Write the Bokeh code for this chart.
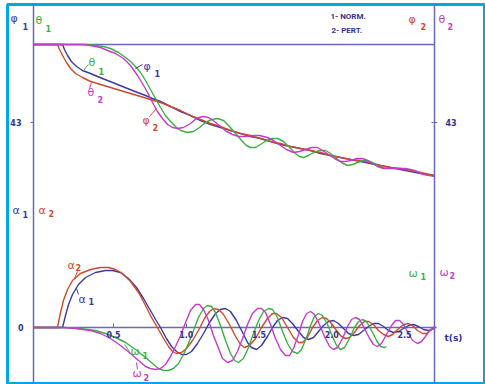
from bokeh.plotting import figure
from bokeh.models import Range1d, LinearAxis, FixedTicker, NumeralTickFormatter
from bokeh.core.properties import value
from bokeh.embed import file_html
from bokeh.resources import INLINE

# ---------------- data ----------------
# time axis ticks [s]
T_TICKS = [0.5, 1.0, 1.5, 2.0, 2.5]
UP_TICKS = [43]
LOW_TICKS = [0]
TOP_LEVEL = 82          # upper flat starting value (upper scale)
T_LEFT = -0.05          # left axis position [s]
T_RIGHT = 2.706         # right axis position [s]

# upper group: theta_1 (blue), theta_2 (red), phi_1 (green), phi_2 (magenta)
THETA1_T = [-0.050, 0.150, 0.163, 0.184, 0.211, 0.246, 0.287, 0.342, 0.390, 0.459,
            0.528, 0.596, 0.665, 0.720, 0.768, 0.823, 0.892, 0.961, 1.029, 1.098,
            1.167, 1.235, 1.304, 1.373, 1.442, 1.510, 1.579, 1.648, 1.716, 1.785,
            1.854, 1.923, 1.991, 2.060, 2.129, 2.198, 2.266, 2.335, 2.404, 2.473,
            2.541, 2.610, 2.706]
THETA1_V = [82, 82, 79.5, 76.5, 73.5, 71, 69, 67.5, 66, 64,
            62, 60, 58, 56.5, 55, 53.5, 51, 48.5, 46.5, 44,
            42, 40.5, 39, 37.5, 36, 35, 33.5, 32, 31, 30,
            29, 27.5, 26.5, 25.5, 24.5, 23.5, 22.5, 21.5, 20.5, 19.5,
            18.5, 17.5, 16.5]

THETA2_T = [-0.050, 0.115, 0.129, 0.150, 0.177, 0.205, 0.239, 0.287, 0.342, 0.411,
            0.479, 0.548, 0.617, 0.686, 0.754, 0.823, 0.892, 0.961, 1.029, 1.098,
            1.167, 1.235, 1.304, 1.373, 1.442, 1.510, 1.579, 1.648, 1.716, 1.785,
            1.854, 1.923, 1.991, 2.060, 2.129, 2.198, 2.266, 2.335, 2.404, 2.473,
            2.541, 2.610, 2.706]
THETA2_V = [82, 82, 79.5, 76.5, 73, 70, 67.5, 65.5, 63.5, 62,
            60.5, 59, 57.5, 56, 54.5, 53, 51, 49, 46.5, 44.5,
            42.5, 41, 39, 37.5, 36.5, 35, 33.5, 32.5, 31, 30,
            29, 28, 26.5, 25.5, 24.5, 24, 23, 21.5, 20.5, 20,
            19, 18, 16.5]

PHI1_T = [-0.050, 0.308, 0.376, 0.431, 0.479, 0.534, 0.583, 0.617, 0.651, 0.686,
          0.720, 0.754, 0.789, 0.823, 0.857, 0.892, 0.926, 0.961, 1.009, 1.050,
          1.091, 1.132, 1.174, 1.215, 1.256, 1.297, 1.339, 1.380, 1.414, 1.442,
          1.476, 1.510, 1.552, 1.593, 1.627, 1.668, 1.710, 1.751, 1.778, 1.806,
          1.840, 1.875, 1.916, 1.957, 1.991, 2.033, 2.067, 2.108, 2.143, 2.177,
          2.211, 2.246, 2.280, 2.314, 2.342, 2.376]
PHI1_V = [82, 82, 81.5, 81, 80, 78, 75.5, 73.5, 71, 68,
          64, 59.5, 55, 50.5, 46.5, 43.5, 41, 39, 38, 38.5,
          40.5, 43, 44.5, 45, 44, 41, 37.5, 34, 31.5, 30.5,
          30.5, 32, 34, 35, 35, 33.5, 30.5, 27.5, 26, 25.5,
          26.5, 28, 29, 29, 27.5, 25, 23, 21.5, 22, 23,
          24, 24, 23, 21.5, 20.5, 20]

PHI2_T = [-0.050, 0.287, 0.342, 0.411, 0.459, 0.514, 0.569, 0.617, 0.665, 0.699,
          0.734, 0.768, 0.802, 0.837, 0.871, 0.906, 0.940, 0.981, 1.029, 1.070,
          1.112, 1.153, 1.194, 1.235, 1.277, 1.318, 1.359, 1.407, 1.455, 1.503,
          1.558, 1.600, 1.648, 1.689, 1.737, 1.778, 1.820, 1.861, 1.902, 1.936,
          1.978, 2.019, 2.060, 2.095, 2.136, 2.170, 2.211, 2.246, 2.280, 2.314,
          2.356, 2.390, 2.431, 2.466, 2.507, 2.541, 2.569, 2.603, 2.631, 2.672,
          2.706]
PHI2_V = [82, 82, 81.5, 80.5, 79, 77.5, 75, 71.5, 66.5, 62.5,
          58, 53, 48.5, 45, 42, 40.5, 40, 40.5, 42.5, 45,
          46, 45.5, 43.5, 41, 38.5, 37, 36, 36, 36.5, 36.5,
          35.5, 34, 31.5, 29.5, 28, 28.5, 29.5, 30.5, 30.5, 29,
          27, 25, 23.5, 23.5, 24, 25, 25, 24, 22.5, 21,
          20, 20, 20, 20, 20, 19.5, 19, 18, 17, 16.5,
          16]

# lower group: alpha_1 (blue), alpha_2 (red), omega_1 (green), omega_2 (magenta)
ALPHA1_T = [-0.050, 0.150, 0.170, 0.191, 0.218, 0.259, 0.308, 0.376, 0.445, 0.493,
            0.548, 0.603, 0.658, 0.706, 0.754, 0.789, 0.823, 0.864, 0.899, 0.933,
            0.967, 1.002, 1.036, 1.077, 1.119, 1.160, 1.201, 1.235, 1.270, 1.304,
            1.345, 1.387, 1.421, 1.448, 1.483, 1.517, 1.558, 1.593, 1.627, 1.662,
            1.696, 1.730, 1.772, 1.806, 1.840, 1.875, 1.909, 1.943, 1.978, 2.012,
            2.046, 2.081, 2.115, 2.150, 2.184, 2.218, 2.253, 2.287, 2.321, 2.356,
            2.390, 2.424, 2.459, 2.493, 2.528, 2.562, 2.596, 2.631, 2.665, 2.706]
ALPHA1_V = [0, 0, 1.2, 2.3, 3.3, 4.3, 5.0, 5.5, 5.7, 5.7,
            5.5, 4.9, 4.0, 2.9, 1.7, 0.8, 0, -1.1, -1.9, -2.4,
            -2.7, -2.7, -2.4, -1.6, -0.6, 0.5, 1.4, 1.8, 1.9, 1.6,
            0.7, -0.5, -1.5, -2.0, -2.2, -1.8, -0.9, 0, 0.7, 1.0,
            0.9, 0.4, -0.4, -1.0, -1.2, -1.0, -0.4, 0.2, 0.6, 0.7,
            0.4, -0.1, -0.6, -0.8, -0.7, -0.3, 0.1, 0.4, 0.4, 0.1,
            -0.3, -0.5, -0.4, -0.1, 0.2, 0.3, 0.1, -0.2, -0.3, -0.1]

ALPHA2_T = [-0.050, 0.115, 0.136, 0.156, 0.184, 0.218, 0.273, 0.342, 0.411, 0.466,
            0.514, 0.562, 0.617, 0.672, 0.720, 0.761, 0.802, 0.844, 0.878, 0.906,
            0.933, 0.967, 1.002, 1.043, 1.084, 1.125, 1.160, 1.187, 1.222, 1.256,
            1.297, 1.339, 1.373, 1.400, 1.435, 1.476, 1.517, 1.558, 1.593, 1.620,
            1.655, 1.696, 1.737, 1.772, 1.799, 1.833, 1.868, 1.902, 1.936, 1.964,
            1.998, 2.033, 2.067, 2.095, 2.122, 2.156, 2.191, 2.225, 2.253, 2.287,
            2.321, 2.356, 2.390, 2.418, 2.452, 2.486, 2.521, 2.555, 2.589, 2.624,
            2.651, 2.679, 2.706]
ALPHA2_V = [0, 0, 1.5, 2.7, 3.8, 4.7, 5.4, 5.8, 6.0, 6.0,
            5.8, 5.4, 4.6, 3.5, 2.2, 1.0, 0, -1.1, -1.9, -2.4,
            -2.6, -2.5, -2.1, -1.3, -0.3, 0.9, 1.6, 1.9, 1.8, 1.3,
            0.3, -0.9, -1.7, -2.0, -1.8, -1.1, 0, 0.9, 1.4, 1.4,
            1.0, 0, -1.0, -1.5, -1.5, -1.0, 0, 0.7, 1.0, 0.9,
            0.4, -0.3, -0.9, -1.1, -1.0, -0.5, 0.2, 0.6, 0.6, 0.3,
            -0.3, -0.7, -0.9, -0.7, -0.2, 0.2, 0.4, 0.2, -0.3, -0.6,
            -0.6, -0.3, 0]

OMEGA1_T = [-0.050, 0.156, 0.273, 0.376, 0.445, 0.514, 0.583, 0.651, 0.720, 0.768,
            0.809, 0.844, 0.878, 0.912, 0.947, 0.981, 1.015, 1.050, 1.084, 1.119,
            1.146, 1.174, 1.201, 1.235, 1.270, 1.304, 1.332, 1.359, 1.393, 1.428,
            1.462, 1.497, 1.531, 1.565, 1.593, 1.627, 1.662, 1.696, 1.730, 1.765,
            1.792, 1.827, 1.854, 1.881, 1.909, 1.936, 1.971, 2.005, 2.033, 2.060,
            2.088, 2.122, 2.156, 2.184, 2.211, 2.239, 2.273, 2.308, 2.335, 2.363,
            2.376]
OMEGA1_V = [0, 0, -0.1, -0.3, -0.6, -1.0, -1.5, -2.2, -3.0, -3.6,
            -4.1, -4.3, -4.3, -4.1, -3.6, -2.7, -1.6, -0.3, 1.0, 1.9,
            2.2, 2.1, 1.5, 0.2, -1.3, -2.6, -3.3, -3.5, -3.1, -2.0,
            -0.6, 0.7, 1.6, 1.9, 1.8, 1.0, -0.4, -1.6, -2.4, -2.6,
            -2.2, -1.0, 0.2, 1.1, 1.4, 1.2, 0.3, -0.9, -1.8, -2.2,
            -2.0, -1.1, 0, 0.6, 0.8, 0.6, -0.3, -1.3, -1.9, -2.0,
            -1.9]

OMEGA2_T = [-0.050, 0.156, 0.239, 0.342, 0.411, 0.479, 0.548, 0.617, 0.672, 0.720,
            0.754, 0.789, 0.823, 0.857, 0.892, 0.926, 0.961, 0.995, 1.029, 1.064,
            1.091, 1.119, 1.153, 1.187, 1.222, 1.249, 1.284, 1.318, 1.352, 1.387,
            1.421, 1.455, 1.490, 1.517, 1.545, 1.579, 1.613, 1.648, 1.682, 1.710,
            1.737, 1.772, 1.799, 1.827, 1.854, 1.881, 1.916, 1.950, 1.985, 2.012,
            2.040, 2.074, 2.108, 2.136, 2.163, 2.191, 2.225, 2.260, 2.287, 2.314,
            2.342, 2.376, 2.411, 2.438, 2.466, 2.493, 2.528, 2.555, 2.589, 2.617,
            2.644, 2.672, 2.706]
OMEGA2_V = [0, 0, -0.1, -0.3, -0.6, -1.1, -1.8, -2.6, -3.3, -3.9,
            -4.1, -4.2, -4.1, -3.7, -2.9, -1.9, -0.8, 0.5, 1.7, 2.3,
            2.3, 1.8, 0.7, -0.8, -2.1, -3.1, -3.5, -3.3, -2.4, -1.1,
            0.3, 1.4, 1.9, 1.9, 1.5, 0.3, -1.1, -2.2, -2.8, -2.8,
            -2.1, -0.7, 0.6, 1.4, 1.6, 1.3, 0.3, -0.9, -1.9, -2.2,
            -2.0, -1.1, 0.1, 0.8, 1.0, 0.8, -0.1, -1.1, -1.7, -1.9,
            -1.6, -0.7, 0.2, 0.7, 0.7, 0.3, -0.6, -1.3, -1.6, -1.4,
            -0.9, -0.3, 0.1]

# ---------------- style ----------------
BLUE = "#3a3aa6"
RED = "#d4482a"
GREEN = "#3cb045"
MAG = "#c43cc8"
AXC = "#6a6ab8"
TXT = "#34348c"

# labels: letter, t, value(upper scale), colour
GREEK = [("φ", -0.208, 95.25, BLUE), ("θ", -0.036, 94.25, GREEN),
         ("φ", 2.528, 94.5, RED), ("θ", 2.734, 94.5, MAG),
         ("α", -0.194, -0.75, BLUE), ("α", -0.015, -0.75, RED),
         ("ω", 2.528, -32.25, GREEN), ("ω", 2.740, -32.0, MAG),
         ("θ", 0.328, 73.0, GREEN), ("φ", 0.706, 71.25, BLUE),
         ("θ", 0.321, 58.25, MAG), ("φ", 0.699, 44.0, RED),
         ("α", 0.184, -28.25, RED), ("α", 0.259, -45.25, BLUE),
         ("ω", 0.617, -71.5, GREEN), ("ω", 0.631, -82.5, MAG)]
SUBS = [("1", -0.125, 91.0, BLUE), ("1", 0.033, 90.25, GREEN),
        ("2", 2.610, 91.0, RED), ("2", 2.795, 91.0, MAG),
        ("1", -0.125, -2.75, BLUE), ("2", 0.053, -2.5, RED),
        ("1", 2.610, -33.75, GREEN), ("2", 2.809, -33.5, MAG),
        ("1", 0.397, 68.75, GREEN), ("1", 0.782, 67.5, BLUE),
        ("2", 0.390, 54.75, MAG), ("2", 0.768, 40.75, RED),
        ("2", 0.239, -29.5, RED), ("1", 0.328, -46.25, BLUE),
        ("1", 0.699, -73.25, GREEN), ("2", 0.706, -84.5, MAG)]
# leader lines: t0, v0, t1, v1, colour
LEADERS = [(0.294, 69.0, 0.328, 72.0, GREEN), (0.651, 70.0, 0.699, 72.0, BLUE),
           (0.349, 63.0, 0.335, 60.0, MAG), (0.747, 46.0, 0.796, 50.0, RED),
           (0.253, -31.5, 0.232, -35.0, RED), (0.259, -43.0, 0.246, -40.0, BLUE),
           (0.610, -71.5, 0.576, -68.0, GREEN), (0.665, -80.5, 0.658, -77.0, MAG)]
LEGEND_TXT = [("1- NORM.", 1.991, 96.0), ("2- PERT.", 1.998, 89.0)]
UNIT_TXT = ("t(s)", 2.775, -64.5)

# ---------------- figure ----------------
p = figure(width=485, height=384, x_range=Range1d(-0.2285, 3.0498),
           y_range=Range1d(-87.5, 102.0), output_backend="svg",
           toolbar_location=None, min_border_left=7, min_border_top=4,
           min_border_right=1, min_border_bottom=1, x_axis_type=None,
           y_axis_type=None, title=None)
p.extra_y_ranges = {"lower": Range1d(-5.6, 32.3)}
p.outline_line_color = "#00a6e6"
p.outline_line_width = 3
p.background_fill_color = "white"
p.border_fill_color = "white"


def style_axis(ax):
    ax.axis_line_color = AXC
    ax.axis_line_width = 1.5
    ax.major_tick_line_color = AXC
    ax.major_tick_line_width = 1
    ax.minor_tick_line_color = None
    ax.major_label_text_font = "DejaVu Sans"
    ax.major_label_text_font_style = "bold"
    ax.major_label_text_font_size = "8px"
    ax.major_label_text_color = TXT


left_up = LinearAxis(ticker=FixedTicker(ticks=UP_TICKS, minor_ticks=[]),
                     fixed_location=T_LEFT, major_tick_in=0, major_tick_out=3,
                     major_label_standoff=9)
style_axis(left_up)
p.add_layout(left_up, "left")

left_low = LinearAxis(y_range_name="lower",
                      ticker=FixedTicker(ticks=LOW_TICKS, minor_ticks=[]),
                      fixed_location=T_LEFT, major_tick_in=0, major_tick_out=0,
                      major_label_standoff=10)
style_axis(left_low)
left_low.axis_line_color = None
p.add_layout(left_low, "left")

right_ax = LinearAxis(ticker=FixedTicker(ticks=UP_TICKS, minor_ticks=[]),
                      fixed_location=T_RIGHT, major_tick_in=3, major_tick_out=3,
                      major_label_standoff=8)
style_axis(right_ax)
p.add_layout(right_ax, "right")

bottom = LinearAxis(y_range_name="lower",
                    ticker=FixedTicker(ticks=T_TICKS, minor_ticks=[]),
                    formatter=NumeralTickFormatter(format="0.0"),
                    fixed_location=0, major_tick_in=4, major_tick_out=0,
                    major_label_standoff=3)
style_axis(bottom)
bottom.axis_line_color = None
p.add_layout(bottom, "below")

# reference lines
p.segment(x0=[T_LEFT], y0=[TOP_LEVEL], x1=[T_RIGHT], y1=[TOP_LEVEL],
          line_color=AXC, line_width=1.5)
p.segment(x0=[T_LEFT], y0=[0], x1=[T_RIGHT + 0.015], y1=[0],
          line_color=AXC, line_width=1.5, y_range_name="lower")

# upper curves
LW = 1.4
p.line(THETA1_T, THETA1_V, line_color=BLUE, line_width=LW, line_join="round")
p.line(THETA2_T, THETA2_V, line_color=RED, line_width=LW, line_join="round")
p.line(PHI1_T, PHI1_V, line_color=GREEN, line_width=LW, line_join="round")
p.line(PHI2_T, PHI2_V, line_color=MAG, line_width=LW, line_join="round")

# lower curves
p.line(ALPHA1_T, ALPHA1_V, line_color=BLUE, line_width=LW, line_join="round", y_range_name="lower")
p.line(ALPHA2_T, ALPHA2_V, line_color=RED, line_width=LW, line_join="round", y_range_name="lower")
p.line(OMEGA1_T, OMEGA1_V, line_color=GREEN, line_width=LW, line_join="round", y_range_name="lower")
p.line(OMEGA2_T, OMEGA2_V, line_color=MAG, line_width=LW, line_join="round", y_range_name="lower")

# leaders
p.segment(x0=[l[0] for l in LEADERS], y0=[l[1] for l in LEADERS],
          x1=[l[2] for l in LEADERS], y1=[l[3] for l in LEADERS],
          line_color=[l[4] for l in LEADERS], line_width=1)

# labels
p.text(x=[g[1] for g in GREEK], y=[g[2] for g in GREEK], text=[g[0] for g in GREEK],
       text_color=[g[3] for g in GREEK], text_font=value("DejaVu Sans"),
       text_font_size=value("11px"), text_align="left", text_baseline="middle")
p.text(x=[s[1] for s in SUBS], y=[s[2] for s in SUBS], text=[s[0] for s in SUBS],
       text_color=[s[3] for s in SUBS], text_font=value("DejaVu Sans"),
       text_font_size=value("8px"), text_font_style="bold",
       text_align="left", text_baseline="middle")
p.text(x=[l[1] for l in LEGEND_TXT], y=[l[2] for l in LEGEND_TXT],
       text=[l[0] for l in LEGEND_TXT], text_color=TXT,
       text_font=value("Roboto"), text_font_size=value("8px"),
       text_font_style="bold", text_align="left", text_baseline="middle")
p.text(x=[UNIT_TXT[1]], y=[UNIT_TXT[2]], text=[UNIT_TXT[0]], text_color=TXT,
       text_font=value("DejaVu Sans"), text_font_size=value("9px"),
       text_font_style="bold", text_align="left", text_baseline="middle")

open("out.html", "w").write(file_html(p, INLINE))
